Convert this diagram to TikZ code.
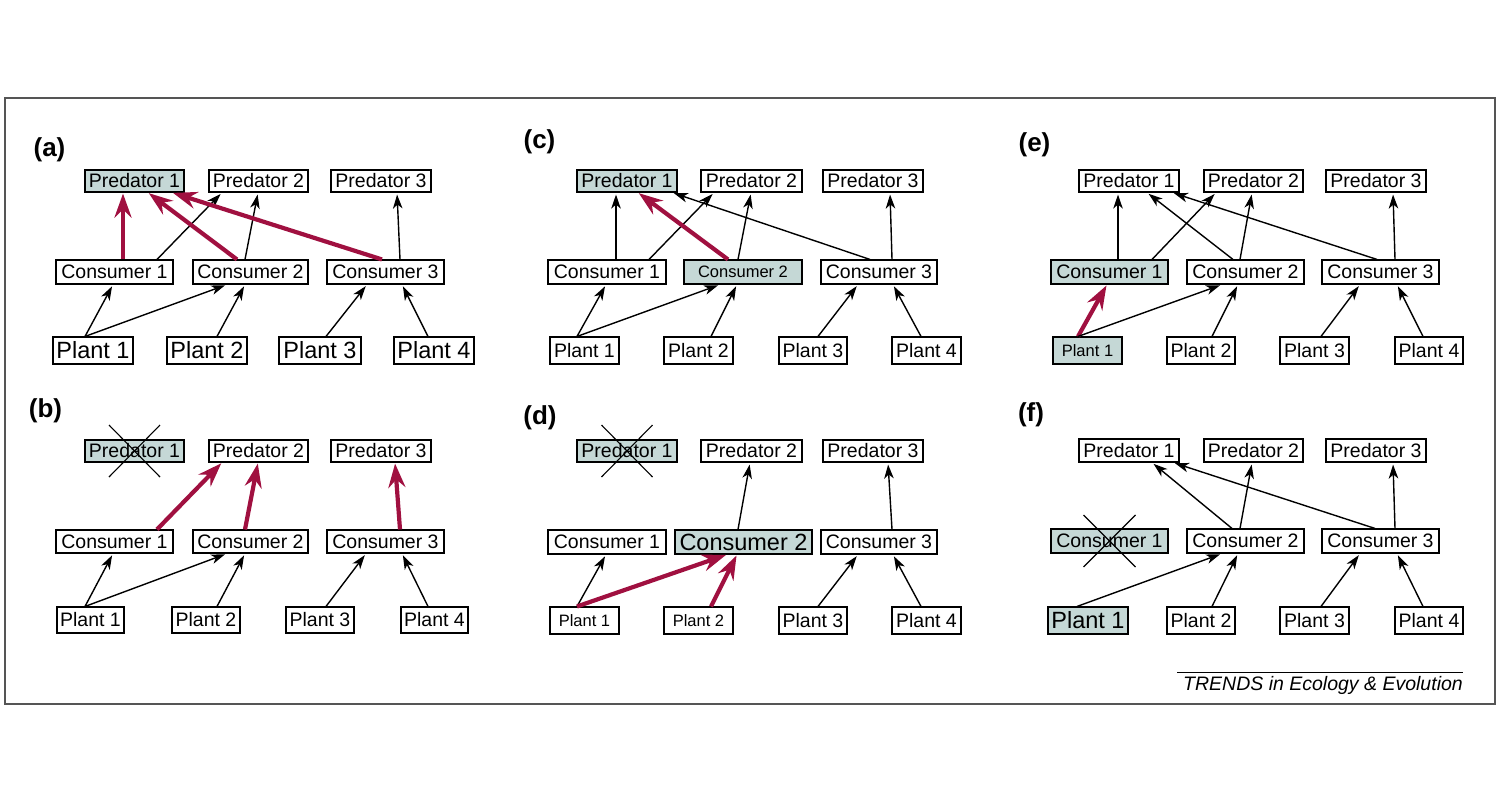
\documentclass[tikz,border=0pt]{standalone}
\usepackage{fontspec}
\setmainfont{Liberation Sans}
\usetikzlibrary{arrows.meta}
\definecolor{hlfill}{RGB}{197,216,214}
\definecolor{tred}{RGB}{160,16,64}
\definecolor{framegray}{RGB}{85,85,85}
\begin{document}
\begin{tikzpicture}[x=1pt,y=-1pt,
 box/.style={draw=black, line width=1.1pt, inner sep=0pt, font=\fontsize{19.5}{22}\selectfont},
 hl/.style={fill=hlfill},
 big/.style={font=\fontsize{23.5}{26}\selectfont},
 small/.style={font=\fontsize{16.5}{19}\selectfont},
 pr/.style={box, minimum height=22pt},
 cs/.style={box, minimum height=24pt},
 pl/.style={box, minimum height=27pt},
 lab/.style={font=\fontsize{26}{28}\selectfont\bfseries, inner sep=0pt},
 arr/.style={line width=1.4pt, -{Stealth[length=14pt,width=9.5pt,inset=4pt]}, shorten >=2pt},
 rarr/.style={draw=tred, line width=4.2pt, -{Stealth[length=24pt,width=17pt,inset=8pt]}, shorten >=1pt},
 cross/.style={line width=1.1pt}]
\useasboundingbox (0,0) rectangle (1502,804);
\draw[framegray, line width=2pt] (5,98) rectangle (1495,704);

% ---------- (a) ----------
\node[lab] (la) at (49.5,149.5) {(a)};
\node[pr,hl,minimum width=99pt] (a-p1) at (134.5,181) {Predator 1};
\node[pr,minimum width=99pt] (a-p2) at (258.5,181) {Predator 2};
\node[pr,minimum width=100pt] (a-p3) at (381,181) {Predator 3};
\node[cs,minimum width=117pt] (a-c1) at (114.5,272) {Consumer 1};
\node[cs,minimum width=115pt] (a-c2) at (250.5,272) {Consumer 2};
\node[cs,minimum width=117pt] (a-c3) at (385.5,272) {Consumer 3};
\node[pl,big,minimum width=80pt] (a-pl1) at (93,350.5) {Plant 1};
\node[pl,big,minimum width=80pt] (a-pl2) at (207,350.5) {Plant 2};
\node[pl,big,minimum width=82pt] (a-pl3) at (320,350.5) {Plant 3};
\node[pl,big,minimum width=80pt] (a-pl4) at (434,350.5) {Plant 4};
\draw[arr] ([xshift=-8pt]a-pl1.north) -- ([xshift=-1.5pt]a-c1.south);
\draw[arr] ([xshift=-8pt]a-pl1.north) -- ([xshift=-23.5pt]a-c2.south);
\draw[arr] ([xshift=10pt]a-pl2.north) -- ([xshift=-5.5pt]a-c2.south);
\draw[arr] ([xshift=6pt]a-pl3.north) -- ([xshift=-18.5pt]a-c3.south);
\draw[arr] ([xshift=-6pt]a-pl4.north) -- ([xshift=16.5pt]a-c3.south);
\draw[arr] ([xshift=42.5pt]a-c1.north) -- ([xshift=-36.5pt]a-p2.south);
\draw[arr] ([xshift=-5.5pt]a-c2.north) -- ([xshift=-0.5pt]a-p2.south);
\draw[arr] ([xshift=14.5pt]a-c3.north) -- ([xshift=16pt]a-p3.south);
\draw[rarr] ([xshift=8.5pt]a-c1.north) -- ([xshift=-11.5pt]a-p1.south);
\draw[rarr] ([xshift=-13.5pt]a-c2.north) -- ([xshift=13.5pt]a-p1.south);
\draw[rarr] ([xshift=-3.5pt]a-c3.north) -- ([xshift=37.5pt]a-p1.south);

% ---------- (b) ----------
\node[lab] (lb) at (45.5,411) {(b)};
\node[pr,hl,minimum width=99pt] (b-p1) at (134.5,451) {Predator 1};
\node[pr,minimum width=99pt] (b-p2) at (258.5,451) {Predator 2};
\node[pr,minimum width=100pt] (b-p3) at (381,451) {Predator 3};
\node[cs,minimum height=23pt,minimum width=117pt] (b-c1) at (114.5,541.5) {Consumer 1};
\node[cs,minimum height=23pt,minimum width=115pt] (b-c2) at (250.5,541.5) {Consumer 2};
\node[cs,minimum height=23pt,minimum width=117pt] (b-c3) at (385.5,541.5) {Consumer 3};
\node[pl,minimum height=26pt,minimum width=67pt] (b-pl1) at (90.5,620) {Plant 1};
\node[pl,minimum height=26pt,minimum width=68pt] (b-pl2) at (206,620) {Plant 2};
\node[pl,minimum height=26pt,minimum width=68pt] (b-pl3) at (320,620) {Plant 3};
\node[pl,minimum height=26pt,minimum width=67pt] (b-pl4) at (434.5,620) {Plant 4};
\draw[cross] ([xshift=-25.5pt,yshift=26pt]b-p1.center) -- ([xshift=25.5pt,yshift=-26pt]b-p1.center);
\draw[cross] ([xshift=25.5pt,yshift=26pt]b-p1.center) -- ([xshift=-25.5pt,yshift=-26pt]b-p1.center);
\draw[arr] ([xshift=-5.5pt]b-pl1.north) -- ([xshift=-1.5pt]b-c1.south);
\draw[arr] ([xshift=-5.5pt]b-pl1.north) -- ([xshift=-23.5pt]b-c2.south);
\draw[arr] ([xshift=11pt]b-pl2.north) -- ([xshift=-5.5pt]b-c2.south);
\draw[arr] ([xshift=6pt]b-pl3.north) -- ([xshift=-19.5pt]b-c3.south);
\draw[arr] ([xshift=-6.5pt]b-pl4.north) -- ([xshift=16.5pt]b-c3.south);
\draw[rarr] ([xshift=42.5pt]b-c1.north) -- ([xshift=-36.5pt]b-p2.south);
\draw[rarr] ([xshift=-5.5pt]b-c2.north) -- ([xshift=-0.5pt]b-p2.south);
\draw[rarr] ([xshift=14.5pt]b-c3.north) -- ([xshift=14pt]b-p3.south);

% ---------- (c) ----------
\node[lab] (lc) at (539.5,141.5) {(c)};
\node[pr,hl,minimum width=100pt] (c-p1) at (627,181) {Predator 1};
\node[pr,minimum width=101pt] (c-p2) at (751.5,181) {Predator 2};
\node[pr,minimum width=100pt] (c-p3) at (873,181) {Predator 3};
\node[cs,minimum width=118pt] (c-c1) at (607,272) {Consumer 1};
\node[cs,hl,small,minimum width=118pt] (c-c2) at (743,272) {Consumer 2};
\node[cs,minimum width=116pt] (c-c3) at (879,272) {Consumer 3};
\node[pl,minimum width=69pt] (c-pl1) at (584.5,350.5) {Plant 1};
\node[pl,minimum width=69pt] (c-pl2) at (698.5,350.5) {Plant 2};
\node[pl,minimum width=68pt] (c-pl3) at (813,350.5) {Plant 3};
\node[pl,minimum width=69pt] (c-pl4) at (926.5,350.5) {Plant 4};
\draw[arr] ([xshift=9pt]c-c1.north) -- ([xshift=-11pt]c-p1.south);
\draw[arr] ([xshift=42pt]c-c1.north) -- ([xshift=-37.5pt]c-p2.south);
\draw[arr] ([xshift=-5pt]c-c2.north) -- ([xshift=-0.5pt]c-p2.south);
\draw[arr] ([xshift=-9pt]c-c3.north) -- ([xshift=45pt]c-p1.south);
\draw[arr] ([xshift=13pt]c-c3.north) -- ([xshift=17pt]c-p3.south);
\draw[rarr] ([xshift=-15pt]c-c2.north) -- ([xshift=11pt]c-p1.south);
\draw[arr] ([xshift=-7.5pt]c-pl1.north) -- ([xshift=-1pt]c-c1.south);
\draw[arr] ([xshift=-7.5pt]c-pl1.north) -- ([xshift=-23pt]c-c2.south);
\draw[arr] ([xshift=12.5pt]c-pl2.north) -- ([xshift=-6pt]c-c2.south);
\draw[arr] ([xshift=5pt]c-pl3.north) -- ([xshift=-21pt]c-c3.south);
\draw[arr] ([xshift=-5.5pt]c-pl4.north) -- ([xshift=14pt]c-c3.south);

% ---------- (d) ----------
\node[lab] (ld) at (540,418) {(d)};
\node[pr,hl,minimum width=100pt] (d-p1) at (627,451) {Predator 1};
\node[pr,minimum width=101pt] (d-p2) at (751.5,451) {Predator 2};
\node[pr,minimum width=100pt] (d-p3) at (873,451) {Predator 3};
\node[cs,minimum width=118pt] (d-c1) at (607,542) {Consumer 1};
\node[cs,hl,big,minimum width=137pt] (d-c2) at (743.5,542) {Consumer 2};
\node[cs,minimum width=116pt] (d-c3) at (879,542) {Consumer 3};
\node[pl,small,minimum width=69pt] (d-pl1) at (584.5,620.5) {Plant 1};
\node[pl,small,minimum width=69pt] (d-pl2) at (698.5,620.5) {Plant 2};
\node[pl,minimum width=68pt] (d-pl3) at (813,620.5) {Plant 3};
\node[pl,minimum width=69pt] (d-pl4) at (926.5,620.5) {Plant 4};
\draw[cross] ([xshift=-25.5pt,yshift=26pt]d-p1.center) -- ([xshift=25.5pt,yshift=-26pt]d-p1.center);
\draw[cross] ([xshift=25.5pt,yshift=26pt]d-p1.center) -- ([xshift=-25.5pt,yshift=-26pt]d-p1.center);
\draw[arr] ([xshift=-5.5pt]d-c2.north) -- ([xshift=-1.5pt]d-p2.south);
\draw[arr] ([xshift=13pt]d-c3.north) -- ([xshift=15pt]d-p3.south);
\draw[arr] ([xshift=-7.5pt]d-pl1.north) -- ([xshift=-1pt]d-c1.south);
\draw[rarr] ([xshift=-7.5pt]d-pl1.north) -- ([xshift=-16.5pt]d-c2.south);
\draw[rarr] ([xshift=12.5pt]d-pl2.north) -- ([xshift=-6.5pt]d-c2.south);
\draw[arr] ([xshift=5pt]d-pl3.north) -- ([xshift=-21pt]d-c3.south);
\draw[arr] ([xshift=-5.5pt]d-pl4.north) -- ([xshift=14pt]d-c3.south);

% ---------- (e) ----------
\node[lab] (le) at (1034.5,144.5) {(e)};
\node[pr,minimum width=100pt] (e-p1) at (1129,181) {Predator 1};
\node[pr,minimum width=99pt] (e-p2) at (1253.5,181) {Predator 2};
\node[pr,minimum width=100pt] (e-p3) at (1376,181) {Predator 3};
\node[cs,hl,minimum width=117pt] (e-c1) at (1109.5,272) {Consumer 1};
\node[cs,minimum width=117pt] (e-c2) at (1245.5,272) {Consumer 2};
\node[cs,minimum width=117pt] (e-c3) at (1380.5,272) {Consumer 3};
\node[pl,hl,small,minimum width=69pt] (e-pl1) at (1087.5,350.5) {Plant 1};
\node[pl,minimum width=68pt] (e-pl2) at (1201,350.5) {Plant 2};
\node[pl,minimum width=69pt] (e-pl3) at (1314.5,350.5) {Plant 3};
\node[pl,minimum width=68pt] (e-pl4) at (1429,350.5) {Plant 4};
\draw[arr] ([xshift=8.5pt]e-c1.north) -- ([xshift=-11pt]e-p1.south);
\draw[arr] ([xshift=42.5pt]e-c1.north) -- ([xshift=-37.5pt]e-p2.south);
\draw[arr] ([xshift=-12.5pt]e-c2.north) -- ([xshift=18pt]e-p1.south);
\draw[arr] ([xshift=-5.5pt]e-c2.north) -- ([xshift=-1.5pt]e-p2.south);
\draw[arr] ([xshift=-3.5pt]e-c3.north) -- ([xshift=43pt]e-p1.south);
\draw[arr] ([xshift=14.5pt]e-c3.north) -- ([xshift=17pt]e-p3.south);
\draw[rarr] ([xshift=-9.5pt]e-pl1.north) -- ([xshift=-2.5pt]e-c1.south);
\draw[arr] ([xshift=-9.5pt]e-pl1.north) -- ([xshift=-23.5pt]e-c2.south);
\draw[arr] ([xshift=11pt]e-pl2.north) -- ([xshift=-7.5pt]e-c2.south);
\draw[arr] ([xshift=6.5pt]e-pl3.north) -- ([xshift=-20.5pt]e-c3.south);
\draw[arr] ([xshift=-6pt]e-pl4.north) -- ([xshift=16.5pt]e-c3.south);

% ---------- (f) ----------
\node[lab] (lf) at (1031,414.5) {(f)};
\node[pr,minimum height=23pt,minimum width=100pt] (f-p1) at (1129,450.5) {Predator 1};
\node[pr,minimum height=23pt,minimum width=99pt] (f-p2) at (1253.5,450.5) {Predator 2};
\node[pr,minimum height=23pt,minimum width=100pt] (f-p3) at (1376,450.5) {Predator 3};
\node[cs,hl,minimum width=117pt] (f-c1) at (1109.5,541) {Consumer 1};
\node[cs,minimum width=117pt] (f-c2) at (1245.5,541) {Consumer 2};
\node[cs,minimum width=117pt] (f-c3) at (1380.5,541) {Consumer 3};
\node[pl,hl,big,minimum width=80pt] (f-pl1) at (1088,620.5) {Plant 1};
\node[pl,minimum width=68pt] (f-pl2) at (1201,620.5) {Plant 2};
\node[pl,minimum width=69pt] (f-pl3) at (1314.5,620.5) {Plant 3};
\node[pl,minimum width=68pt] (f-pl4) at (1429,620.5) {Plant 4};
\draw[cross] ([xshift=-26pt,yshift=26pt]f-c1.center) -- ([xshift=26pt,yshift=-26pt]f-c1.center);
\draw[cross] ([xshift=26pt,yshift=26pt]f-c1.center) -- ([xshift=-26pt,yshift=-26pt]f-c1.center);
\draw[arr] ([xshift=-13.5pt]f-c2.north) -- ([xshift=23pt]f-p1.south);
\draw[arr] ([xshift=-5.5pt]f-c2.north) -- ([xshift=-1.5pt]f-p2.south);
\draw[arr] ([xshift=-5.5pt]f-c3.north) -- ([xshift=44pt]f-p1.south);
\draw[arr] ([xshift=14.5pt]f-c3.north) -- ([xshift=17pt]f-p3.south);
\draw[arr] ([xshift=-11pt]f-pl1.north) -- ([xshift=-23.5pt]f-c2.south);
\draw[arr] ([xshift=11pt]f-pl2.north) -- ([xshift=-7.5pt]f-c2.south);
\draw[arr] ([xshift=6.5pt]f-pl3.north) -- ([xshift=-20.5pt]f-c3.south);
\draw[arr] ([xshift=-6pt]f-pl4.north) -- ([xshift=16.5pt]f-c3.south);

% ---------- credit ----------
\coordinate (tl) at (1177,672);
\coordinate (tr) at (1463,672);
\draw[line width=1pt] (tl) -- (tr);
\node[anchor=base east, inner sep=0pt, font=\fontsize{19.5}{22}\selectfont\itshape] (credit) at (1463,690) {TRENDS in Ecology \& Evolution};
\end{tikzpicture}
\end{document}
